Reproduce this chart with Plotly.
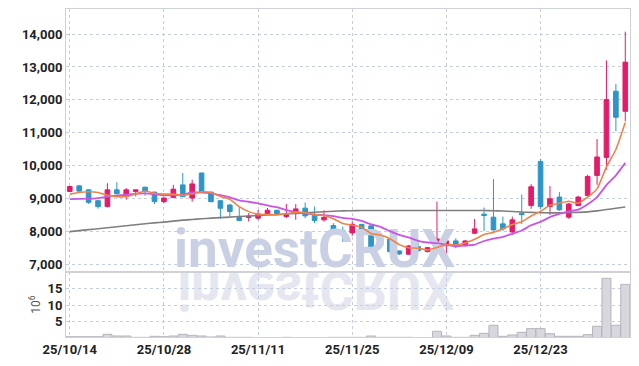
import base64
import pandas as pd
import plotly.graph_objects as go
from plotly.subplots import make_subplots

# ---------------- data ----------------
dates = pd.bdate_range("2025-10-14", periods=60)
labels = [d.strftime("%y/%m/%d") for d in dates]
tick_labels = labels[::10]

open_ = [9220, 9390, 9270, 8940, 8760, 9270, 9070, 9220, 9350, 9200,
         8910, 9040, 9420, 9020, 9780, 9200, 8940, 8810, 8430, 8430,
         8410, 8530, 8650, 8460, 8610, 8714, 8489, 8358, 8184, 8023,
         7962, 8221, 8175, 7581, 7770, 7414, 7314, 7545, 7393, 7475,
         7575, 7718, 7575, 7953, 8531, 8440, 8236, 7992, 8562, 8790,
         10132, 8762, 9049, 8440, 8793, 9097, 9706, 10254, 12263, 11654]
high = [9390, 9420, 9280, 8960, 9470, 9500, 9320, 9280, 9360, 9210,
        9030, 9420, 9780, 9580, 9790, 9210, 8950, 8830, 8760, 8560,
        8660, 8720, 8660, 8840, 8835, 8884, 8762, 8647, 8257, 8154,
        8306, 8236, 8190, 7810, 7779, 7429, 7597, 7679, 7536, 8915,
        7901, 7800, 7749, 8388, 8732, 9597, 8458, 8458, 9125, 9444,
        10205, 9383, 9201, 8875, 9088, 9727, 10814, 13198, 12488, 14071]
low = [9200, 9220, 8840, 8700, 8740, 9130, 8970, 9070, 9090, 8840,
       8870, 9020, 9060, 8910, 9200, 8890, 8390, 8460, 8330, 8310,
       8360, 8510, 8530, 8410, 8360, 8409, 8257, 8306, 8023, 7688,
       7871, 7627, 7444, 7551, 7368, 7292, 7292, 7393, 7374, 7393,
       7292, 7496, 7551, 7922, 8023, 8032, 8023, 7901, 8227, 8692,
       8692, 8510, 8632, 8388, 8769, 9073, 9423, 9880, 11046, 11350]
close = [9371, 9230, 8890, 8760, 9270, 9150, 9270, 9270, 9220, 8910,
         9020, 9290, 9060, 9450, 9220, 8910, 8710, 8610, 8340, 8470,
         8530, 8650, 8550, 8510, 8690, 8480, 8336, 8434, 8032, 7953,
         8221, 8032, 7496, 7779, 7393, 7323, 7566, 7423, 7514, 7779,
         7718, 7545, 7718, 8084, 8489, 8053, 8084, 8358, 8516, 9362,
         8762, 8997, 8662, 8839, 9049, 9676, 10266, 12010, 11472, 13146]

ma_short = [9140, 9190, 9210, 9190, 9104, 9060, 9068, 9144, 9236, 9164,
            9138, 9142, 9100, 9146, 9208, 9186, 9070, 8980, 8758, 8608,
            8532, 8520, 8508, 8542, 8586, 8576, 8513, 8490, 8394, 8247,
            8195, 8134, 7947, 7896, 7784, 7605, 7511, 7497, 7444, 7521,
            7600, 7596, 7655, 7769, 7911, 7978, 8086, 8214, 8300, 8475,
            8616, 8799, 8860, 8924, 8862, 9045, 9298, 9968, 10495, 11314]
ma_mid = [8990, 8995, 9000, 9020, 9060, 9090, 9120, 9150, 9160, 9134,
          9099, 9105, 9122, 9191, 9186, 9162, 9106, 9040, 8952, 8908,
          8859, 8795, 8744, 8650, 8597, 8554, 8517, 8499, 8468, 8417,
          8386, 8324, 8219, 8145, 8016, 7900, 7823, 7722, 7670, 7653,
          7603, 7554, 7576, 7607, 7716, 7789, 7841, 7935, 8035, 8193,
          8297, 8443, 8537, 8612, 8669, 8831, 9049, 9414, 9710, 10088]
ma_long = [8000, 8030, 8060, 8090, 8120, 8150, 8180, 8210, 8240, 8265,
           8290, 8320, 8350, 8370, 8390, 8410, 8425, 8440, 8460, 8475,
           8490, 8505, 8520, 8535, 8550, 8570, 8590, 8605, 8620, 8630,
           8635, 8640, 8640, 8640, 8640, 8640, 8640, 8640, 8640, 8640,
           8640, 8640, 8640, 8640, 8640, 8635, 8625, 8610, 8595, 8585,
           8575, 8570, 8570, 8575, 8585, 8600, 8630, 8670, 8710, 8750]

volume = [0.6, 0.6, 0.6, 0.6, 1.3, 0.8, 0.8, 0.4, 0.4, 0.7,
          0.6, 0.8, 1.3, 1.0, 0.8, 0.5, 0.8, 0.4, 0.4, 0.4,
          0.3, 0.3, 0.3, 0.4, 0.3, 0.3, 0.3, 0.3, 0.4, 0.4,
          0.4, 0.4, 0.8, 0.4, 0.4, 0.4, 0.4, 0.3, 0.3, 2.2,
          0.8, 0.4, 0.4, 1.0, 1.6, 4.0, 0.7, 1.1, 1.9, 3.0,
          3.0, 1.5, 0.7, 0.7, 0.7, 1.2, 3.7, 18.0, 4.0, 16.2]

price_ticks = [7000, 8000, 9000, 10000, 11000, 12000, 13000, 14000]
volume_ticks = [5, 10, 15]
watermark = "investCRUX"

# ---------------- style ----------------
UP = "#E41B69"
DOWN = "#2C96C8"
GRID = "#c5cde0"
AXLINE = "#cfd1d8"
TICKFONT = dict(family="Roboto, sans-serif", size=13, color="#222222", weight="bold")

fig = make_subplots(rows=2, cols=1, shared_xaxes=True, vertical_spacing=0,
                    row_heights=[0.803, 0.197])

# watermark (under the data)
fig.add_trace(go.Scatter(x=[labels[26]], y=[7340], mode="text", text=[watermark],
                         textposition="middle center", cliponaxis=False,
                         textfont=dict(family="Roboto, sans-serif", size=53,
                                       color="#cad0e4", weight="bold"),
                         hoverinfo="skip", showlegend=False), row=1, col=1)

fig.add_trace(go.Scatter(x=labels, y=ma_long, mode="lines",
                         line=dict(color="#7f7f7f", width=1.6, shape="spline", smoothing=0.5),
                         showlegend=False), row=1, col=1)
fig.add_trace(go.Scatter(x=labels, y=ma_mid, mode="lines",
                         line=dict(color="#c955e4", width=1.8, shape="spline", smoothing=0.5),
                         showlegend=False), row=1, col=1)
fig.add_trace(go.Scatter(x=labels, y=ma_short, mode="lines",
                         line=dict(color="#ee8448", width=1.6, shape="spline", smoothing=0.5),
                         showlegend=False), row=1, col=1)

fig.add_trace(go.Candlestick(x=labels, open=open_, high=high, low=low, close=close,
                             increasing=dict(line=dict(color=UP, width=1), fillcolor=UP),
                             decreasing=dict(line=dict(color=DOWN, width=1), fillcolor=DOWN),
                             whiskerwidth=0, showlegend=False), row=1, col=1)

fig.add_trace(go.Bar(x=labels, y=volume, marker=dict(color="#d7d7dd",
                     line=dict(color="#b5b5bd", width=1)), showlegend=False), row=2, col=1)

# mirrored reflection of the watermark
svg = ("<svg xmlns='http://www.w3.org/2000/svg' width='280' height='52' viewBox='0 0 280 52'>"
       "<text x='1' y='0' transform='scale(1,-1)' font-family='Roboto, sans-serif' font-weight='bold' "
       "font-size='53' textLength='277' lengthAdjust='spacingAndGlyphs' fill='#e4e7f0'>"
       + watermark + "</text></svg>")
src = "data:image/svg+xml;base64," + base64.b64encode(svg.encode()).decode()
fig.add_layout_image(dict(source=src, xref="paper", yref="paper", x=0.196, y=0.198,
                          sizex=280 / 564, sizey=52 / 328, xanchor="left", yanchor="top",
                          sizing="stretch", layer="below"))

axis_common = dict(showline=True, linecolor=AXLINE, linewidth=1, mirror=True,
                   gridcolor=GRID, griddash="dot", gridwidth=1, zeroline=False,
                   ticks="", tickfont=TICKFONT)

fig.update_xaxes(type="category", categoryorder="array", categoryarray=labels,
                 range=[-0.4, 59.5], tickvals=tick_labels,
                 ticktext=tick_labels, showgrid=True, rangeslider=dict(visible=False),
                 **axis_common)
fig.update_xaxes(showticklabels=False, row=1, col=1)
fig.update_yaxes(range=[6766, 14760], tickvals=price_ticks,
                 ticktext=[f"{v:,}" for v in price_ticks], row=1, col=1, **axis_common)
fig.update_yaxes(range=[0.5, 19.8], tickvals=volume_ticks,
                 ticktext=[str(v) for v in volume_ticks], row=2, col=1,
                 title=dict(text="10<sup>6</sup>", standoff=4,
                            font=dict(family="Roboto, sans-serif", size=12, color="#555555")),
                 **axis_common)

# page body has an 8px margin: size the figure so the plot area lands where the reference has it
fig.update_layout(width=631, height=358, margin=dict(l=58, r=9, t=1, b=29),
                  paper_bgcolor="white", plot_bgcolor="rgba(0,0,0,0)",
                  showlegend=False, bargap=0.04, hovermode=False)
fig.layout.yaxis.domain = [0.1973, 1]
fig.layout.yaxis2.domain = [0, 0.1973]

fig.write_html("out.html")
